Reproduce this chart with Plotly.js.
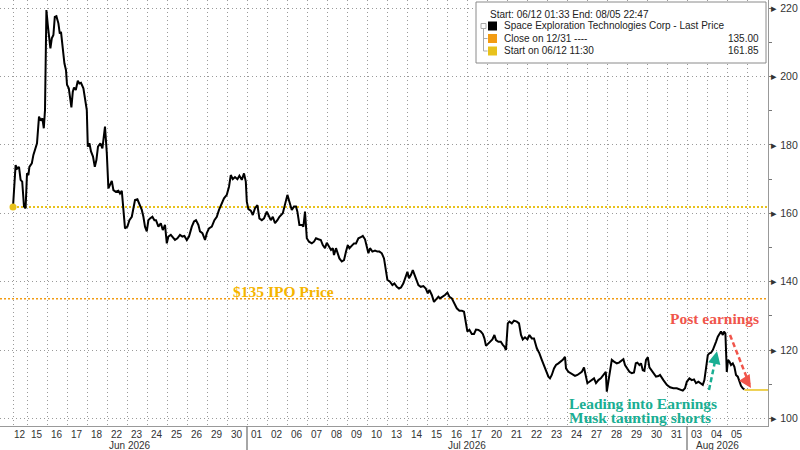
<!DOCTYPE html>
<html>
<head>
<meta charset="utf-8">
<script src="https://cdn.plot.ly/plotly-3.0.1.min.js"></script>
<style>
html,body{margin:0;padding:0;background:#fff;}
#chart{width:800px;height:450px;}
</style>
</head>
<body>
<div id="chart"></div>
<script>
// ---------- DATA ----------
// Trading-day axis: Jun 12 session (from 11:30) is a partial day, every other day = 1 unit
const dayLabels = ['12','15','16','17','18','22','23','24','25','26','29','30',
  '01','02','06','07','08','09','10','13','14','15','16','17','20','21','22','23','24','27','28','29','30','31',
  '03','04','05'];
const monthNames = ['Jun 2026','Jul 2026','Aug 2026'];
const monthDayCounts = [12, 22, 3];
const firstDayFraction = 0.7;

const startPrice = 161.85;   // Start on 06/12 11:30
const ipoPrice = 135.00;     // Close on 12/31 / IPO price
const lastPrice = 108.3;

// time in trading days (0 = open of Jun 15), last price
const t = [
 -0.70,-0.57,-0.49,-0.40,-0.32,-0.24,-0.15,-0.07,0.00,0.07,0.12,0.24,0.32,0.42,0.50,0.60,0.69,0.77,0.84,0.90,
 0.97,1.04,1.12,1.17,1.24,1.32,1.39,1.47,1.57,1.64,1.70,1.79,1.87,1.95,2.00,2.09,2.17,2.22,2.29,2.35,
 2.44,2.54,2.62,2.70,2.82,2.90,2.99,3.04,3.12,3.20,3.30,3.39,3.47,3.55,3.67,3.77,3.90,3.99,4.07,4.15,
 4.24,4.32,4.44,4.57,4.65,4.74,4.82,4.90,5.02,5.12,5.24,5.32,5.40,5.52,5.62,5.74,5.82,5.90,5.99,6.07,
 6.15,6.27,6.37,6.45,6.57,6.69,6.79,6.90,6.99,7.07,7.19,7.29,7.40,7.52,7.65,7.77,7.87,7.99,8.10,8.24,
 8.35,8.45,8.57,8.65,8.77,8.90,8.99,9.10,9.24,9.37,9.49,9.60,9.74,9.85,9.99,10.10,10.19,10.29,10.40,10.52,
 10.62,10.74,10.85,10.94,10.99,11.07,11.19,11.29,11.40,11.52,11.62,11.74,11.85,11.99,12.07,12.19,12.29,12.40,12.52,12.62,
 12.79,12.90,13.02,13.12,13.24,13.35,13.45,13.52,13.62,13.74,13.82,13.90,13.99,14.10,14.24,14.35,14.45,14.57,14.69,14.79,
 14.90,14.99,15.10,15.20,15.29,15.35,15.45,15.52,15.62,15.74,15.85,15.95,16.04,16.12,16.24,16.35,16.45,16.57,16.69,16.79,
 16.90,16.99,17.07,17.15,17.27,17.40,17.52,17.62,17.74,17.85,17.94,18.02,18.15,18.27,18.37,18.49,18.60,18.70,18.82,18.95,
 19.02,19.10,19.20,19.29,19.37,19.45,19.57,19.69,19.82,19.94,20.04,20.12,20.24,20.35,20.45,20.57,20.65,20.79,20.90,21.02,
 21.12,21.24,21.35,21.49,21.62,21.74,21.85,21.95,22.02,22.12,22.24,22.35,22.45,22.57,22.69,22.79,22.87,22.95,23.04,23.15,
 23.27,23.37,23.45,23.57,23.69,23.79,23.87,23.95,24.04,24.12,24.24,24.35,24.49,24.60,24.70,24.79,24.90,25.02,25.12,25.24,
 25.35,25.49,25.62,25.74,25.85,25.95,26.07,26.15,26.24,26.35,26.45,26.57,26.69,26.79,26.90,26.95,27.07,27.19,27.29,27.40,
 27.52,27.62,27.74,27.85,27.94,28.02,28.12,28.24,28.35,28.45,28.57,28.69,28.79,28.87,28.94,28.99,29.07,29.15,29.24,29.35,
 29.49,29.60,29.74,29.82,29.90,30.02,30.12,30.24,30.35,30.44,30.52,30.62,30.70,30.79,30.87,30.95,31.04,31.12,31.20,31.29,
 31.37,31.45,31.57,31.65,31.82,31.99,32.15,32.32,32.49,32.65,32.79,32.90,32.99,33.12,33.24,33.35,33.45,33.57,33.69,33.79,
 33.87,33.95,34.04,34.12,34.20,34.29,34.37,34.45,34.54,34.62,34.70,34.79,34.85,34.92,34.99,35.05,35.12,35.20,35.29,35.37,
 35.45,35.54,35.62,35.70,35.79,35.87
];
const price = [
 161.85,174.1,173.1,173.6,169.8,169.3,162.0,161.5,171.7,171.2,173.6,174.6,177.1,179.5,180.5,188.3,187.1,187.8,184.9,190.2,
 219.5,215.1,209.8,208.3,211.2,212.2,217.5,217.7,215.6,212.6,213.1,208.7,203.9,201.9,197.6,196.6,193.6,191.0,195.6,196.8,
 196.1,198.8,198.0,198.2,196.6,194.1,190.2,179.5,180.5,178.1,176.6,173.6,175.6,179.5,180.5,179.0,185.4,177.6,167.3,168.3,
 169.5,166.8,166.3,166.6,165.8,166.6,161.9,155.6,156.1,158.0,159.0,161.9,163.9,164.1,162.9,161.0,159.0,156.1,154.7,158.0,
 158.5,159.0,158.0,158.0,156.1,157.1,155.1,156.6,151.2,153.2,153.7,153.0,152.2,152.7,153.7,153.2,153.4,152.2,153.2,156.1,
 157.6,158.0,156.6,154.7,154.2,152.2,154.2,155.6,156.1,158.0,159.0,161.0,162.9,164.4,165.4,167.8,171.2,170.0,170.6,170.0,
 171.0,169.8,171.7,169.3,163.4,161.2,160.8,159.5,161.5,162.4,158.5,158.0,158.5,160.5,159.5,158.0,159.0,157.1,158.0,159.0,
 160.0,162.4,165.4,163.4,161.0,162.0,162.0,160.5,156.6,156.6,156.1,160.5,152.7,151.7,151.2,151.7,152.7,152.4,152.2,150.7,
 149.8,151.4,150.2,149.3,149.8,147.8,149.8,148.8,146.8,145.9,146.3,148.8,150.7,149.8,150.7,151.2,151.2,152.7,153.0,153.4,
 152.4,149.8,148.3,149.8,148.8,149.1,148.8,148.8,148.3,146.8,143.4,140.5,140.0,139.0,139.5,138.5,138.0,138.3,139.5,141.5,
 142.9,141.0,142.0,143.4,142.0,140.5,139.0,138.5,138.7,138.0,136.6,137.6,136.1,134.1,134.8,135.6,135.1,135.6,136.1,136.8,
 135.6,135.1,133.7,132.2,131.5,131.5,131.2,127.8,125.4,125.9,124.7,124.7,126.0,125.9,125.4,124.7,123.4,121.2,121.8,122.4,
 123.1,124.4,122.9,122.4,122.4,121.5,121.0,120.0,127.8,128.3,127.8,128.6,128.3,127.8,124.4,123.1,123.7,123.1,124.4,123.4,
 123.4,120.5,119.0,117.1,115.6,114.1,112.2,111.7,112.7,114.6,115.6,116.1,116.6,117.1,118.0,114.6,113.6,113.2,113.0,112.4,
 112.7,113.2,113.6,114.9,112.2,110.3,110.7,111.2,111.7,110.3,111.2,111.7,112.4,113.2,113.6,107.8,110.7,114.1,117.1,116.6,
 116.1,116.3,116.9,117.3,115.6,114.6,113.6,113.2,113.4,116.1,116.3,115.6,116.1,114.1,113.9,117.1,117.9,114.9,114.3,113.6,
 112.7,112.2,112.4,112.7,111.2,109.8,109.1,108.8,108.8,108.5,108.1,108.8,110.7,111.7,111.2,111.4,110.3,110.7,110.3,109.8,
 111.2,115.1,118.5,119.0,119.2,120.0,121.0,122.4,123.9,124.9,125.4,124.4,125.4,124.9,113.6,117.1,116.6,115.6,116.1,115.1,
 112.7,112.2,110.7,109.5,108.8,108.5
];

const yTicks = [100,120,140,160,180,200,220];

// ---------- DERIVED AXIS HELPERS ----------
const bounds = [-firstDayFraction];
for (let i = 0; i < dayLabels.length; i++) bounds.push(i);
const centers = dayLabels.map((_, i) => (bounds[i] + bounds[i + 1]) / 2);
const xMin = -1.35, xMax = 37.05;
const yMin = 97.76, yMax = 222.43;

const monthBounds = [bounds[0]];
let acc = 0;
monthDayCounts.forEach(n => { acc += n; monthBounds.push(bounds[acc]); });

// plot area pixel helpers (for legend box)
const PW = 768, PH = 426;
const px = v => v / PW;
const py = v => 1 - v / PH;

const cYellow = '#e8c21c', cOrange = '#f39c12', cGold = '#f5b400';
const cTeal = '#1aae93', cRed = '#f0554b';
const gridCol = '#9a9a9a';
const axisFont = { family: 'Liberation Sans, Arial, sans-serif', size: 10, color: '#333' };

// ---------- TRACES ----------
const traces = [
  { x: [xMin, xMax], y: [ipoPrice, ipoPrice], mode: 'lines',
    line: { color: cOrange, width: 1.6, dash: '2px,2px' }, hoverinfo: 'skip' },
  { x: [t[0], xMax], y: [startPrice, startPrice], mode: 'lines',
    line: { color: cYellow, width: 2, dash: '2px,2px' }, hoverinfo: 'skip' },
  { x: t, y: price, mode: 'lines', line: { color: '#000', width: 2 } },
  { x: [t[t.length - 1], xMax], y: [lastPrice, lastPrice], mode: 'lines',
    line: { color: cYellow, width: 1.5 } },
  { x: [t[0]], y: [startPrice], mode: 'markers',
    marker: { color: cYellow, size: 7 } }
];

// ---------- SHAPES ----------
const shapes = [];
// month separators under the axis
monthBounds.slice(1, -1).forEach(b => {
  shapes.push({ type: 'line', xref: 'x', yref: 'paper', x0: b, x1: b, y0: 0, y1: -0.06,
    line: { color: '#888', width: 1.5 } });
});
// dashed arrows
shapes.push({ type: 'line', xref: 'x', yref: 'y', x0: 34.1, y0: 108.3, x1: 34.47, y1: 118.6,
  line: { color: cTeal, width: 2.5, dash: '5px,3px' } });
shapes.push({ type: 'line', xref: 'x', yref: 'y', x0: 35.15, y0: 124.4, x1: 36.12, y1: 110.0,
  line: { color: cRed, width: 2.5, dash: '5px,3px' } });
// legend box
shapes.push({ type: 'rect', xref: 'paper', yref: 'paper', x0: px(476), x1: px(766), y0: py(63), y1: py(2),
  fillcolor: '#fff', line: { color: '#8a8a8a', width: 1 }, layer: 'above' });
const legendRows = [
  { y: 26, color: '#000' },
  { y: 38.5, color: cOrange },
  { y: 51, color: cYellow }
];
legendRows.forEach(r => {
  shapes.push({ type: 'rect', xref: 'paper', yref: 'paper', x0: px(488), x1: px(497), y0: py(r.y + 4.5), y1: py(r.y - 4.5),
    fillcolor: r.color, line: { width: 0 }, layer: 'above' });
});
// tree connector
shapes.push({ type: 'rect', xref: 'paper', yref: 'paper', x0: px(481), x1: px(486), y0: py(28.5), y1: py(23.5),
  fillcolor: '#fff', line: { color: '#aaa', width: 1 }, layer: 'above' });
shapes.push({ type: 'line', xref: 'paper', yref: 'paper', x0: px(483.5), x1: px(483.5), y0: py(28.5), y1: py(51),
  line: { color: '#aaa', width: 1 }, layer: 'above' });
[38.5, 51].forEach(yy => shapes.push({ type: 'line', xref: 'paper', yref: 'paper', x0: px(483.5), x1: px(487.5), y0: py(yy), y1: py(yy),
  line: { color: '#aaa', width: 1 }, layer: 'above' }));

// ---------- ANNOTATIONS ----------
const legFont = { family: 'Liberation Sans, Arial, sans-serif', size: 10, color: '#222' };
const noteFont = (c) => ({ family: 'Liberation Serif, Times New Roman, serif', size: 15.5, color: c, weight: 'bold' });
const annotations = [
  { xref: 'paper', yref: 'paper', x: px(488), y: py(14), xanchor: 'left', yanchor: 'middle', showarrow: false,
    text: 'Start: 06/12 01:33 End: 08/05 22:47', font: legFont },
  { xref: 'paper', yref: 'paper', x: px(502), y: py(26), xanchor: 'left', yanchor: 'middle', showarrow: false,
    text: 'Space Exploration Technologies Corp - Last Price', font: legFont },
  { xref: 'paper', yref: 'paper', x: px(502), y: py(38.5), xanchor: 'left', yanchor: 'middle', showarrow: false,
    text: 'Close on 12/31 ----', font: legFont },
  { xref: 'paper', yref: 'paper', x: px(502), y: py(51), xanchor: 'left', yanchor: 'middle', showarrow: false,
    text: 'Start on 06/12 11:30', font: legFont },
  { xref: 'paper', yref: 'paper', x: px(761), y: py(38.5), xanchor: 'right', yanchor: 'middle', showarrow: false,
    text: ipoPrice.toFixed(2), font: legFont },
  { xref: 'paper', yref: 'paper', x: px(761), y: py(51), xanchor: 'right', yanchor: 'middle', showarrow: false,
    text: startPrice.toFixed(2), font: legFont },
  // chart notes
  { x: 12.8, y: 137.2, xref: 'x', yref: 'y', showarrow: false, text: '$135 IPO Price', font: noteFont(cGold) },
  { x: 34.35, y: 129.2, xref: 'x', yref: 'y', showarrow: false, text: 'Post earnings', font: noteFont(cRed) },
  { x: 27.0, y: 104.3, xref: 'x', yref: 'y', xanchor: 'left', showarrow: false, text: 'Leading into Earnings', font: noteFont(cTeal) },
  { x: 27.0, y: 100.2, xref: 'x', yref: 'y', xanchor: 'left', showarrow: false, text: 'Musk taunting shorts', font: noteFont(cTeal) },
  // arrow heads
  { x: 34.5, y: 119.6, xref: 'x', yref: 'y', text: '', showarrow: true, arrowhead: 2, arrowsize: 1,
    arrowwidth: 2.5, arrowcolor: cTeal, ax: -2, ay: 9 },
  { x: 36.2, y: 108.9, xref: 'x', yref: 'y', text: '', showarrow: true, arrowhead: 2, arrowsize: 1,
    arrowwidth: 2.5, arrowcolor: cRed, ax: -5, ay: -8 }
];
// day labels, centred in each trading session
dayLabels.forEach((d, i) => {
  annotations.push({ xref: 'x', yref: 'paper', x: centers[i], y: 0, yanchor: 'top', yshift: -1,
    showarrow: false, text: d, font: axisFont });
});
// month labels
monthNames.forEach((m, i) => {
  annotations.push({ xref: 'x', yref: 'paper', x: (monthBounds[i] + monthBounds[i + 1]) / 2, y: 0,
    yanchor: 'top', yshift: -12, showarrow: false, text: m, font: axisFont });
});

// ---------- LAYOUT ----------
const layout = {
  width: 800, height: 450,
  margin: { l: 0, r: 32, t: 0, b: 24, pad: 0 },
  paper_bgcolor: '#fff', plot_bgcolor: '#fff',
  showlegend: false,
  font: axisFont,
  xaxis: {
    range: [xMin, xMax], zeroline: false,
    tickmode: 'array', tickvals: bounds, showticklabels: false, ticks: '',
    showgrid: true, gridcolor: gridCol, griddash: '1px,3px', gridwidth: 1,
    showline: true, linecolor: '#999', linewidth: 1.2
  },
  yaxis: {
    range: [yMin, yMax], side: 'right', zeroline: false,
    tickmode: 'array', tickvals: yTicks, ticktext: yTicks.map(v => '▸ ' + v),
    ticks: '', showgrid: true, gridcolor: gridCol, griddash: '1px,3px', gridwidth: 1,
    showline: true, linecolor: '#999', linewidth: 1.2,
    tickfont: { size: 10.5, color: '#333' },
    minor: { dtick: 10, tick0: 0, ticks: 'outside', ticklen: 3, tickcolor: '#777', showgrid: false }
  },
  shapes: shapes,
  annotations: annotations
};

Plotly.newPlot('chart', traces, layout, { staticPlot: true, displayModeBar: false });
</script>
</body>
</html>
